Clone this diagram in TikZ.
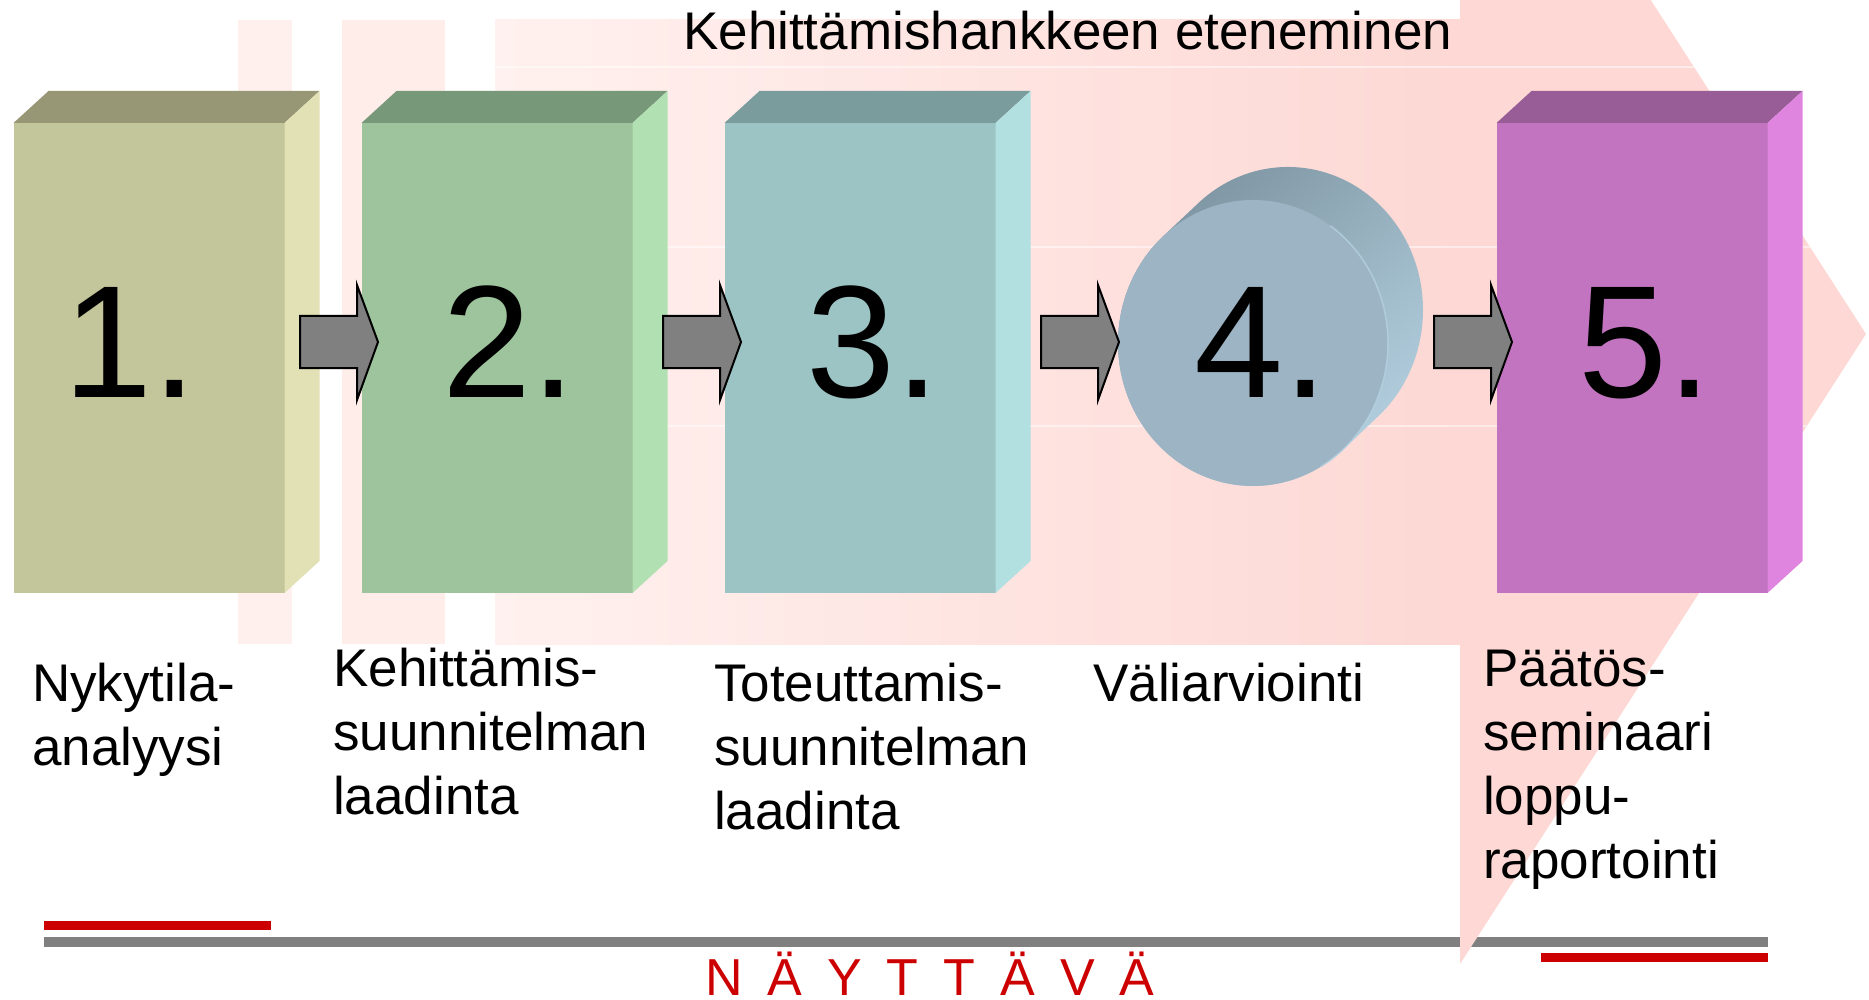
\documentclass[tikz,border=0pt]{standalone}
\usepackage{fontspec}
\setmainfont{Liberation Sans}
\usetikzlibrary{shapes.geometric,calc}
\definecolor{pinkL}{HTML}{FFF1EF}
\definecolor{pinkR}{HTML}{FDD8D4}
\definecolor{stripeA}{HTML}{FFF0EE}
\definecolor{stripeB}{HTML}{FFEDEA}
\definecolor{oneF}{HTML}{C3C59B}\definecolor{oneT}{HTML}{979775}\definecolor{oneS}{HTML}{E2E0B5}
\definecolor{twoF}{HTML}{9DC49C}\definecolor{twoT}{HTML}{78987A}\definecolor{twoS}{HTML}{B1E0B2}
\definecolor{thrF}{HTML}{9CC4C4}\definecolor{thrT}{HTML}{7A9C9C}\definecolor{thrS}{HTML}{B2E0E1}
\definecolor{fivF}{HTML}{C274C0}\definecolor{fivT}{HTML}{985C96}\definecolor{fivS}{HTML}{DF84DF}
\definecolor{discF}{HTML}{9DB4C4}\definecolor{discD}{HTML}{7C93A0}\definecolor{discL}{HTML}{B5D2E2}
\definecolor{arrgray}{HTML}{808080}
\definecolor{redbar}{HTML}{CC0000}
\newcommand\mybox[5]{%
  \node[frontface, fill=#3] (#1) at (#2,358) {};
  \fill[#4] (#1.north west) -- ([shift={(35,-32)}]#1.north west) -- ([shift={(35,-32)}]#1.north east) -- (#1.north east) -- cycle;
  \fill[#5] (#1.north east) -- ([shift={(35,-32)}]#1.north east) -- ([shift={(35,-32)}]#1.south east) -- (#1.south east) -- cycle;
}
\newcommand\myarrow[2]{%
  \coordinate (#1) at (#2,342);
  \draw[blk] (#1) ++(0,-26) -- ++(57,0) -- ++(0,-31) -- ++(21,57) -- ++(-21,58) -- ++(0,-32) -- ++(-57,0) -- cycle;
}
\begin{document}
\begin{tikzpicture}[x=1pt,y=-1pt,
  frontface/.style={rectangle, minimum width=271pt, minimum height=470pt, inner sep=0pt, outer sep=0pt, draw=none},
  blk/.style={fill=arrgray, draw=black, line width=2pt, line join=miter},
  numtxt/.style={anchor=base, inner sep=0pt, font=\fontsize{160}{160}\selectfont},
  lbl/.style={anchor=base west, align=left, inner sep=0pt, font=\fontsize{53}{64}\selectfont},
  ttl/.style={anchor=base west, inner sep=0pt, font=\fontsize{53}{64}\selectfont}]
\useasboundingbox (0,0) rectangle (1869,1000);
\fill[white] (0,0) rectangle (1869,1000);
% bottom lines
\fill[redbar] (44,921) rectangle (271,930);
\fill[arrgray] (44,937) rectangle (1768,947);
\fill[redbar] (1541,953) rectangle (1768,962);
% big background arrow
\begin{scope}
  \clip (0,0) rectangle (1869,1000);
  \fill[stripeA] (238,20) rectangle (292,644);
  \fill[stripeB] (342,20) rectangle (445,644);
  \shade[left color=pinkL, right color=pinkR] (495,20) rectangle (1461,644);
  \fill[pinkR] (1460,-296) -- (1866,334) -- (1460,964) -- cycle;
  \begin{scope}
    \clip (495,20) -- (1460,20) -- (1460,-296) -- (1866,334) -- (1460,964) -- (1460,644) -- (495,644) -- cycle;
    \foreach \yy in {67,247,426} \draw[white, opacity=0.5, line width=1.2pt] (495,\yy) -- (1869,\yy);
  \end{scope}
\end{scope}
% title
\node[ttl] (title) at (683,50) {Kehittämishankkeen eteneminen};
% boxes
\mybox{b1}{149}{oneF}{oneT}{oneS}
\mybox{b2}{497}{twoF}{twoT}{twoS}
\mybox{b3}{860}{thrF}{thrT}{thrS}
\mybox{b5}{1632}{fivF}{fivT}{fivS}
% disc
\coordinate (c4c) at (1253,343);
\shade[top color=discD, bottom color=discL, shading angle=40]
  ($(c4c)+(-89.8,-106.8)$) -- ++(35,-33)
  arc[start angle=228.3, end angle=408.3, x radius=135, y radius=143]
  -- ++(-35,33)
  arc[start angle=48.3, end angle=228.3, x radius=135, y radius=143] -- cycle;
\node[ellipse, minimum width=270pt, minimum height=286pt, inner sep=0pt, outer sep=0pt, fill=discF] (c4) at (c4c) {};
\draw[discL, line width=1.5pt, opacity=0.8] ($(c4c)+(135,0)$) arc[start angle=0, end angle=60, x radius=135, y radius=143];
\draw[discL, line width=1.5pt, opacity=0.8] ($(c4c)+(135,0)$) arc[start angle=0, end angle=-55, x radius=135, y radius=143];
% connectors
\myarrow{a1}{300}
\myarrow{a2}{663}
\myarrow{a3}{1041}
\myarrow{a4}{1434}
% numbers
\node[numtxt] (n1) at (130,397) {1.};
\node[numtxt] (n2) at (509,397) {2.};
\node[numtxt] (n3) at (873,397) {3.};
\node[numtxt] (n4) at (1261,397) {4.};
\node[numtxt] (n5) at (1645,397) {5.};
% labels (anchor = baseline of the last line)
\node[lbl] (l1) at (32,765) {Nykytila-\\analyysi};
\node[lbl] (l2) at (333,814) {Kehittämis-\\suunnitelman\\laadinta};
\node[lbl] (l3) at (714,829) {Toteuttamis-\\suunnitelman\\laadinta};
\node[lbl] (l4) at (1093,701) {Väliarviointi};
\node[lbl] (l5) at (1483,878) {Päätös-\\seminaari\\loppu-\\raportointi};
% bottom word
\node[anchor=base west, inner sep=0pt, text=redbar, font=\fontsize{52}{60}\selectfont\addfontfeature{LetterSpace=48}] (nay) at (705,995) {NÄYTTÄVÄ};
\end{tikzpicture}
\end{document}
